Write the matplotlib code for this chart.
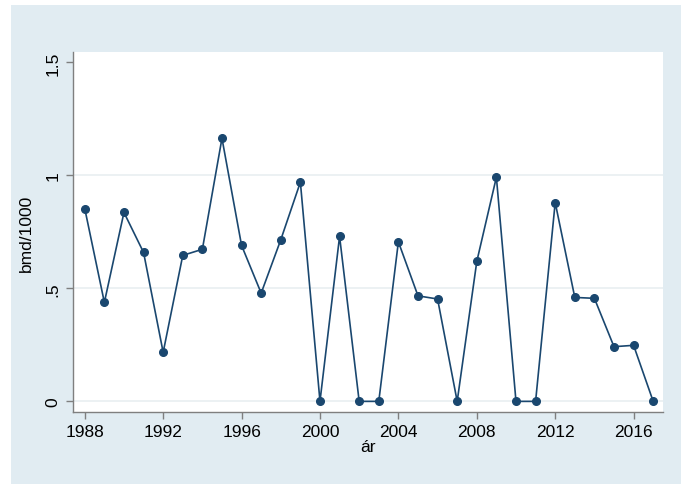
import matplotlib
matplotlib.use("Agg")
import matplotlib.pyplot as plt

plt.rcParams['font.family'] = ['Liberation Sans', 'DejaVu Sans']

years = list(range(1988, 2018))
bmd = [0.853, 0.438, 0.836, 0.659, 0.217, 0.646, 0.673, 1.164, 0.690, 0.479,
       0.715, 0.970, 0.0, 0.730, 0.0, 0.0, 0.706, 0.467, 0.453, 0.0,
       0.619, 0.992, 0.0, 0.0, 0.880, 0.460, 0.456, 0.242, 0.248, 0.0]
xticks = [1988, 1992, 1996, 2000, 2004, 2008, 2012, 2016]
yticks = [0, 0.5, 1, 1.5]
ylabels = ["0", ".5", "1", "1.5"]

BG = "#e1ecf2"
NAVY = "#1a476f"
AX = "#7f7f7f"

fig = plt.figure(figsize=(6.81, 4.85), dpi=100)
fig.patch.set_facecolor("white")
# blue graph region (Stata s2color look)
bg = plt.Rectangle((11/681, 0), 1 - 11/681, 1 - 6/485,
                   transform=fig.transFigure, facecolor=BG,
                   edgecolor="none", zorder=-10)
fig.add_artist(bg)

ax = fig.add_axes([73/681, 1 - 413/485, (663 - 73)/681, (413 - 53)/485])
ax.set_zorder(1)
ax.set_facecolor("white")

for v in yticks[:-1]:
    ax.axhline(v, color="#eaf0f2", lw=1.3, zorder=1)

ax.plot(years, bmd, color=NAVY, lw=1.2, marker="o", markersize=5.5,
        markerfacecolor=NAVY, markeredgecolor=NAVY, zorder=3)

ax.set_xlim(1987.40, 2017.50)
ax.set_ylim(-0.047, 1.546)
ax.set_xticks(xticks)
ax.set_yticks(yticks)
ax.set_yticklabels(ylabels, rotation=90, va="center")

for s in ["top", "right"]:
    ax.spines[s].set_visible(False)
for s in ["left", "bottom"]:
    ax.spines[s].set_color(AX)
    ax.spines[s].set_linewidth(1.0)
ax.tick_params(axis="both", colors=AX, length=5, width=1.0, labelsize=12.5,
               labelcolor="black", pad=4)

ax.set_ylabel("bmd/1000", fontsize=12.5, labelpad=8)
ax.set_xlabel("ár", fontsize=12.5, labelpad=0)

fig.savefig("out.png", dpi=100, facecolor=fig.get_facecolor())
